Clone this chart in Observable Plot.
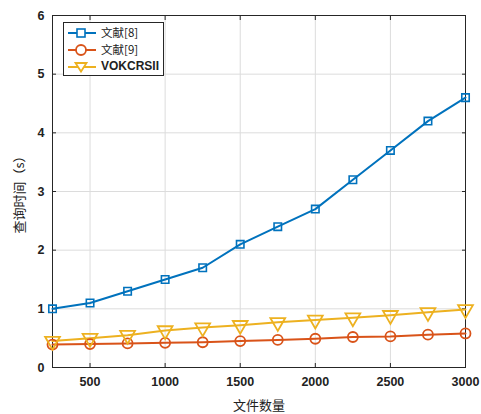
<!DOCTYPE html>
<html>
<head>
<meta charset="utf-8">
<script src="https://cdn.jsdelivr.net/npm/d3@7"></script>
<script src="https://cdn.jsdelivr.net/npm/@observablehq/plot@0.6"></script>
<style>
  html, body { margin: 0; padding: 0; background: #fff; }
  #wrap { position: relative; width: 481px; height: 414px; }
  .legend {
    position: absolute; left: 63px; top: 22px; width: 101px; height: 54px;
    border: 1px solid #262626; background: #fff; box-sizing: border-box;
    padding-top: 1px;
  }
  .legend .row { display: flex; align-items: center; height: 17px; }
  .legend .row span { font-size: 11.5px; line-height: 17px; color: #222; margin-left: 1px; }
  .cjk { font-family: "Noto Sans CJK SC", sans-serif; }
  .latin { font-family: "Liberation Sans", Arial, sans-serif; font-weight: bold; font-size: 12px !important; }
</style>
</head>
<body>
<div id="wrap"></div>
<script>
// File counts on the x axis
const fileCounts = [250, 500, 750, 1000, 1250, 1500, 1750, 2000, 2250, 2500, 2750, 3000];
// Query time (s) of each scheme
const ref8 = [1.0, 1.1, 1.3, 1.5, 1.7, 2.1, 2.4, 2.7, 3.2, 3.7, 4.2, 4.6];
const ref9 = [0.39, 0.40, 0.41, 0.42, 0.43, 0.45, 0.47, 0.49, 0.52, 0.53, 0.56, 0.58];
const vokcrsii = [0.45, 0.5, 0.55, 0.63, 0.68, 0.72, 0.77, 0.81, 0.85, 0.89, 0.94, 0.99];
const seriesNames = ["文献[8]", "文献[9]", "VOKCRSII"];
const seriesColors = ["#0072BD", "#D95319", "#EDB120"];
const xTicks = [500, 1000, 1500, 2000, 2500, 3000];
const yTicks = [0, 1, 2, 3, 4, 5, 6];

const rows = [ref8, ref9, vokcrsii].flatMap((vals, s) =>
  vals.map((v, i) => ({series: seriesNames[s], x: fileCounts[i], y: v})));
const bySeries = name => rows.filter(d => d.series === name);

const fmt = d3.format("d");

const chart = Plot.plot({
  width: 481,
  height: 414,
  marginLeft: 52,
  marginRight: 16,
  marginTop: 15,
  marginBottom: 47,
  style: {fontFamily: "Liberation Sans, Arial, sans-serif", fontSize: "12px", background: "#fff"},
  x: {domain: [250, 3000]},
  y: {domain: [0, 6]},
  marks: [
    Plot.gridX(xTicks, {stroke: "#dcdcdc", strokeOpacity: 1}),
    Plot.gridY(yTicks, {stroke: "#dcdcdc", strokeOpacity: 1}),
    Plot.frame({stroke: "#262626"}),
    // inward tick marks on all four sides
    Plot.axisX(xTicks, {anchor: "bottom", tickSize: -4, text: null, stroke: "#262626", label: null}),
    Plot.axisX(xTicks, {anchor: "top", tickSize: -4, text: null, stroke: "#262626", label: null}),
    Plot.axisY(yTicks, {anchor: "left", tickSize: -4, text: null, stroke: "#262626", label: null}),
    Plot.axisY(yTicks, {anchor: "right", tickSize: -4, text: null, stroke: "#262626", label: null}),
    // tick labels and titles
    Plot.axisX(xTicks, {anchor: "bottom", tickSize: 0, tickPadding: 10, tickFormat: fmt, fontWeight: "bold", fontSize: 12.5,
      fill: "#222", label: "文件数量", labelAnchor: "center", labelArrow: "none", labelOffset: 42}),
    Plot.axisY(yTicks, {anchor: "left", tickSize: 0, tickPadding: 8, tickFormat: fmt, fontWeight: "bold", fontSize: 12.5,
      fill: "#222", label: "查询时间（s）", labelAnchor: "center", labelArrow: "none", labelOffset: 38}),
    ...seriesNames.map((name, s) => Plot.line(bySeries(name), {x: "x", y: "y", stroke: seriesColors[s], strokeWidth: 2})),
    Plot.dot(bySeries(seriesNames[0]), {x: "x", y: "y", symbol: "square", r: 4.2, stroke: seriesColors[0], strokeWidth: 1.6, fill: "none"}),
    Plot.dot(bySeries(seriesNames[1]), {x: "x", y: "y", symbol: "circle", r: 5, stroke: seriesColors[1], strokeWidth: 1.8, fill: "none"}),
    Plot.dot(bySeries(seriesNames[2]), {x: "x", y: "y", symbol: "triangle", r: 5.5, rotate: 180, stroke: seriesColors[2], strokeWidth: 1.8, fill: "none"})
  ]
});

// axis titles use the CJK font
d3.select(chart).selectAll("g[aria-label$='axis label'] text")
  .style("font-family", "'Noto Sans CJK SC', sans-serif")
  .style("font-size", "13px")
  .style("font-weight", "normal")
  .attr("fill", "#222");

const wrap = document.getElementById("wrap");
wrap.appendChild(chart);

// Legend box in the top-left corner of the plot area
const legend = document.createElement("div");
legend.className = "legend";
const markerPaths = [
  c => `<rect x="11" y="3" width="8" height="8" fill="#fff" stroke="${c}" stroke-width="1.6"/>`,
  c => `<circle cx="15" cy="7" r="5" fill="#fff" stroke="${c}" stroke-width="1.8"/>`,
  c => `<path d="M9.5,3 L20.5,3 L15,11.5 Z" fill="#fff" stroke="${c}" stroke-width="1.8"/>`
];
seriesNames.forEach((name, i) => {
  const row = document.createElement("div");
  row.className = "row";
  row.innerHTML = `<svg width="34" height="14" style="margin-left:2px;flex:none"><line x1="2" y1="7" x2="30" y2="7" stroke="${seriesColors[i]}" stroke-width="2"/>${markerPaths[i](seriesColors[i])}</svg><span class="${i < 2 ? "cjk" : "latin"}">${name}</span>`;
  legend.appendChild(row);
});
wrap.appendChild(legend);
</script>
</body>
</html>
